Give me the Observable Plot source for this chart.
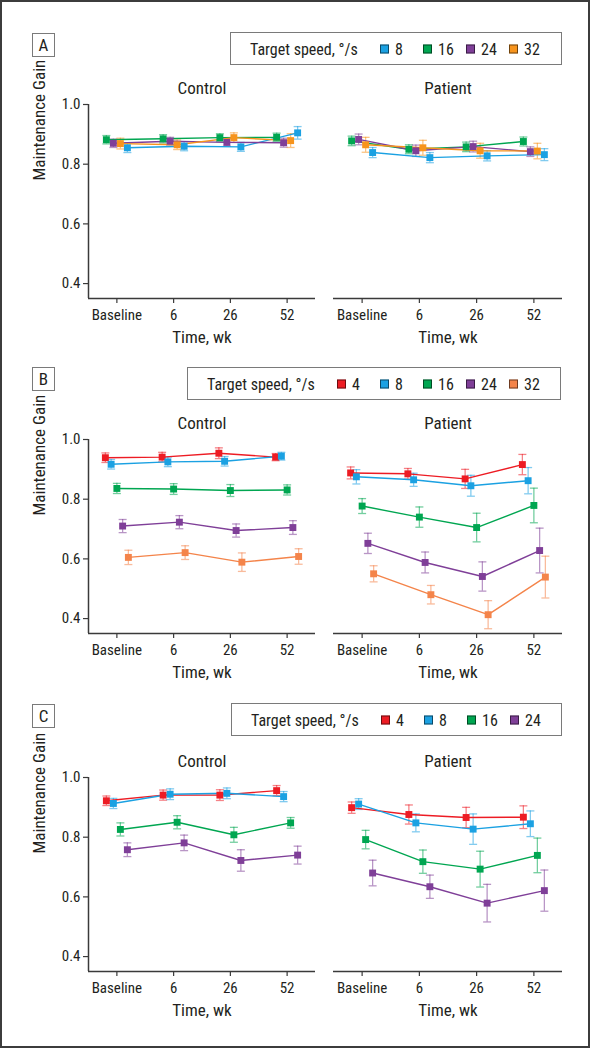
<!DOCTYPE html>
<html>
<head>
<meta charset="utf-8">
<script src="https://cdn.jsdelivr.net/npm/d3@7"></script>
<script src="https://cdn.jsdelivr.net/npm/@observablehq/plot@0.6"></script>
<style>
  html, body { margin: 0; padding: 0; background: #fff; }
  #page { position: relative; width: 594px; height: 1050px; overflow: hidden;
    font-family: "Liberation Sans Narrow", "Arial Narrow", "Roboto Condensed", "DejaVu Sans Condensed", "Liberation Sans", sans-serif; color: #231f20; }
  .outer { position: absolute; left: 0; top: 0; width: 586px; height: 1044px; border: 2px solid #3c3c3c; }
  .plabel { position: absolute; box-sizing: border-box; width: 23px; height: 24px; border: 1px solid #7a7a7a;
    font-size: 17px; display: flex; align-items: center; justify-content: center; }
  .legend { position: absolute; box-sizing: border-box; height: 33px; border: 1px solid #7a7a7a; font-size: 16px; }
  .legend .ttl { position: absolute; left: 19px; top: 50%; transform: translateY(-50%); white-space: nowrap; }
  .legend .item { position: absolute; top: 50%; transform: translateY(-50%); display: flex; align-items: center; white-space: nowrap; }
  .legend .sw { width: 9px; height: 9px; box-sizing: border-box; border: 1px solid rgba(0,0,0,0.55); margin-right: 6px; }
  .chart { position: absolute; }
</style>
</head>
<body>
<div id="page">
  <div class="outer"></div>
</div>
<script>
// ---------- data ----------
const timeLabels = ["Baseline", "6", "26", "52"];
const groups = ["Control", "Patient"];

// Panel A
const speedsA = ["8", "16", "24", "32"];
const aControlMean = [
  [0.855, 0.860, 0.858, 0.905],
  [0.882, 0.885, 0.889, 0.890],
  [0.870, 0.877, 0.873, 0.872],
  [0.869, 0.865, 0.889, 0.879]
];
const aControlErr = [
  [0.016, 0.015, 0.015, 0.021],
  [0.014, 0.014, 0.013, 0.014],
  [0.014, 0.013, 0.013, 0.015],
  [0.018, 0.016, 0.016, 0.023]
];
const aPatientMean = [
  [0.839, 0.822, 0.828, 0.832],
  [0.878, 0.850, 0.858, 0.876],
  [0.883, 0.845, 0.859, 0.842],
  [0.865, 0.855, 0.845, 0.844]
];
const aPatientErr = [
  [0.017, 0.017, 0.017, 0.020],
  [0.016, 0.015, 0.016, 0.015],
  [0.018, 0.019, 0.018, 0.016],
  [0.025, 0.025, 0.025, 0.026]
];

// Panel B
const speedsB = ["4", "8", "16", "24", "32"];
const bControlMean = [
  [0.939, 0.941, 0.954, 0.941],
  [0.917, 0.925, 0.927, 0.944],
  [0.836, 0.834, 0.829, 0.831],
  [0.710, 0.723, 0.695, 0.705],
  [0.605, 0.621, 0.589, 0.608]
];
const bControlErr = [
  [0.016, 0.016, 0.018, 0.012],
  [0.016, 0.016, 0.016, 0.013],
  [0.017, 0.018, 0.020, 0.017],
  [0.022, 0.022, 0.022, 0.023],
  [0.024, 0.023, 0.031, 0.026]
];
const bPatientMean = [
  [0.888, 0.885, 0.868, 0.916],
  [0.875, 0.865, 0.845, 0.862],
  [0.777, 0.740, 0.705, 0.779],
  [0.652, 0.588, 0.541, 0.628],
  [0.550, 0.480, 0.413, 0.539]
];
const bPatientErr = [
  [0.020, 0.018, 0.032, 0.034],
  [0.024, 0.022, 0.035, 0.044],
  [0.025, 0.034, 0.048, 0.058],
  [0.034, 0.035, 0.049, 0.075],
  [0.027, 0.031, 0.047, 0.070]
];

// Panel C
const speedsC = ["4", "8", "16", "24"];
const cControlMean = [
  [0.922, 0.941, 0.941, 0.956],
  [0.913, 0.944, 0.947, 0.936],
  [0.826, 0.850, 0.808, 0.848],
  [0.758, 0.781, 0.722, 0.740]
];
const cControlErr = [
  [0.016, 0.017, 0.018, 0.017],
  [0.017, 0.018, 0.018, 0.017],
  [0.022, 0.022, 0.025, 0.018],
  [0.023, 0.026, 0.036, 0.030]
];
const cPatientMean = [
  [0.899, 0.876, 0.866, 0.867],
  [0.911, 0.848, 0.827, 0.845],
  [0.792, 0.718, 0.693, 0.739],
  [0.680, 0.634, 0.579, 0.621]
];
const cPatientErr = [
  [0.019, 0.032, 0.034, 0.038],
  [0.018, 0.030, 0.051, 0.043],
  [0.031, 0.039, 0.060, 0.058],
  [0.043, 0.039, 0.063, 0.069]
];

const yTicks = [0.4, 0.6, 0.8, 1.0];
const yDomain = [0.35, 1.0];
const legendTitle = "Target speed, °/s";
const yLabel = "Maintenance Gain";
const xLabel = "Time, wk";

// ---------- styles ----------
const FONT = '"Liberation Sans Narrow", "Arial Narrow", "Roboto Condensed", "DejaVu Sans Condensed", "Liberation Sans", sans-serif';
const colorsA = ["#1ba1e2", "#00a651", "#7f3f98", "#f7941d"];
const colorsB = ["#ed1c24", "#1ba1e2", "#00a651", "#7f3f98", "#f4844a"];
const colorsC = ["#ed1c24", "#1ba1e2", "#00a651", "#7f3f98"];
const dodgeA = ["16", "24", "32", "8"];
const dodgeB = ["4", "8", "16", "24", "32"];
const dodgeC = ["4", "8", "16", "24"];
const AXIS = "#3a3a3a";

const capSymbol = {
  draw(context, size) {
    const w = Math.sqrt(size / Math.PI);
    context.moveTo(-w, 0);
    context.lineTo(w, 0);
  }
};

function makePlot({group, speeds, means, errs, colors, order, spacing, showY, width, mLeft, mRight}) {
  const xDomain = [-0.5, timeLabels.length - 0.5];
  const marks = [];
  // axis lines
  marks.push(Plot.ruleY([yDomain[0]], {stroke: AXIS, strokeWidth: 1.5}));
  if (showY) {
    marks.push(Plot.ruleX([xDomain[0]], {y1: yDomain[0], y2: yTicks[yTicks.length - 1], stroke: AXIS, strokeWidth: 1.5}));
    marks.push(Plot.axisY(yTicks, {tickFormat: d3.format(".1f"), tickSize: 5, tickPadding: 3, stroke: AXIS, strokeWidth: 1.2, fontSize: 15, label: null}));
    marks.push(Plot.text([yLabel], {text: d => d, frameAnchor: "left", lineAnchor: "middle", rotate: -90, dx: -49, dy: -21, fontSize: 17, fill: "#231f20"}));
  }
  marks.push(Plot.axisX(d3.range(timeLabels.length), {tickFormat: i => timeLabels[i], tickSize: 5, tickPadding: 6, stroke: AXIS, strokeWidth: 1.2, fontSize: 15, label: null}));
  marks.push(Plot.text([xLabel], {text: d => d, frameAnchor: "bottom", lineAnchor: "middle", dy: 39, fontSize: 17, fill: "#231f20"}));
  marks.push(Plot.text([group], {text: d => d, frameAnchor: "top", lineAnchor: "middle", dy: -16, fontSize: 17, fill: "#231f20"}));

  const n = speeds.length;
  const perSeries = speeds.map((s, i) => {
    const rows = means[i].map((m, t) => ({speed: s, t, mean: m, lo: m - errs[i][t], hi: m + errs[i][t]}));
    const dx = (order.indexOf(s) - (n - 1) / 2) * spacing;
    return {s, rows, dx, color: colors[i]};
  });
  // error bars
  for (const {rows, dx, color} of perSeries) {
    marks.push(Plot.ruleX(rows, {x: "t", y1: "lo", y2: "hi", dx, stroke: color, strokeOpacity: 0.55, strokeWidth: 1.3}));
    marks.push(Plot.dot(rows, {x: "t", y: "lo", dx, r: 4, symbol: capSymbol, stroke: color, strokeOpacity: 0.55, strokeWidth: 1.3, fill: "none"}));
    marks.push(Plot.dot(rows, {x: "t", y: "hi", dx, r: 4, symbol: capSymbol, stroke: color, strokeOpacity: 0.55, strokeWidth: 1.3, fill: "none"}));
  }
  // lines
  for (const {rows, dx, color} of perSeries) {
    marks.push(Plot.line(rows, {x: "t", y: "mean", dx, stroke: color, strokeWidth: 1.4}));
  }
  // squares
  for (const {rows, dx, color} of perSeries) {
    marks.push(Plot.dot(rows, {x: "t", y: "mean", dx, r: 3.9, symbol: "square", fill: color, stroke: "none"}));
  }

  return Plot.plot({
    width, height: 280,
    marginTop: 36, marginBottom: 50, marginLeft: mLeft, marginRight: mRight,
    x: {type: "linear", domain: xDomain, axis: null},
    y: {type: "linear", domain: yDomain, axis: null},
    style: {fontFamily: FONT, fontSize: "15px", color: "#231f20", background: "transparent", overflow: "visible"},
    marks
  });
}

const page = document.getElementById("page");

function addPanel({letter, top, speeds, colors, order, spacing, ctrlMean, ctrlErr, patMean, patErr, legendLeft, legendTop, legendWidth, letterTop}) {
  const c = makePlot({group: groups[0], speeds, means: ctrlMean, errs: ctrlErr, colors, order, spacing, showY: true, width: 330, mLeft: 88, mRight: 15});
  c.classList.add("chart"); c.style.left = "0px"; c.style.top = top + "px";
  page.appendChild(c);
  const p = makePlot({group: groups[1], speeds, means: patMean, errs: patErr, colors, order, spacing, showY: false, width: 294, mLeft: 33, mRight: 32});
  p.classList.add("chart"); p.style.left = "300px"; p.style.top = top + "px";
  page.appendChild(p);

  const lab = document.createElement("div");
  lab.className = "plabel"; lab.textContent = letter;
  lab.style.left = "32px"; lab.style.top = letterTop + "px";
  page.appendChild(lab);

  const lg = document.createElement("div");
  lg.className = "legend";
  lg.style.left = legendLeft + "px"; lg.style.top = legendTop + "px"; lg.style.width = legendWidth + "px";
  const t = document.createElement("span"); t.className = "ttl"; t.textContent = legendTitle;
  lg.appendChild(t);
  speeds.forEach((s, i) => {
    const it = document.createElement("div"); it.className = "item";
    it.style.left = (149 + 43 * i) + "px";
    const sw = document.createElement("div"); sw.className = "sw"; sw.style.background = colors[i];
    const tx = document.createElement("span"); tx.textContent = s;
    it.appendChild(sw); it.appendChild(tx);
    lg.appendChild(it);
  });
  page.appendChild(lg);
}

addPanel({letter: "A", top: 68, speeds: speedsA, colors: colorsA, order: dodgeA, spacing: 7,
  ctrlMean: aControlMean, ctrlErr: aControlErr, patMean: aPatientMean, patErr: aPatientErr,
  legendLeft: 230, legendTop: 32, legendWidth: 332, letterTop: 33});
addPanel({letter: "B", top: 403, speeds: speedsB, colors: colorsB, order: dodgeB, spacing: 5.75,
  ctrlMean: bControlMean, ctrlErr: bControlErr, patMean: bPatientMean, patErr: bPatientErr,
  legendLeft: 187, legendTop: 367, legendWidth: 374, letterTop: 367});
addPanel({letter: "C", top: 741, speeds: speedsC, colors: colorsC, order: dodgeC, spacing: 7,
  ctrlMean: cControlMean, ctrlErr: cControlErr, patMean: cPatientMean, patErr: cPatientErr,
  legendLeft: 231, legendTop: 703, legendWidth: 331, letterTop: 704});
</script>
</body>
</html>
